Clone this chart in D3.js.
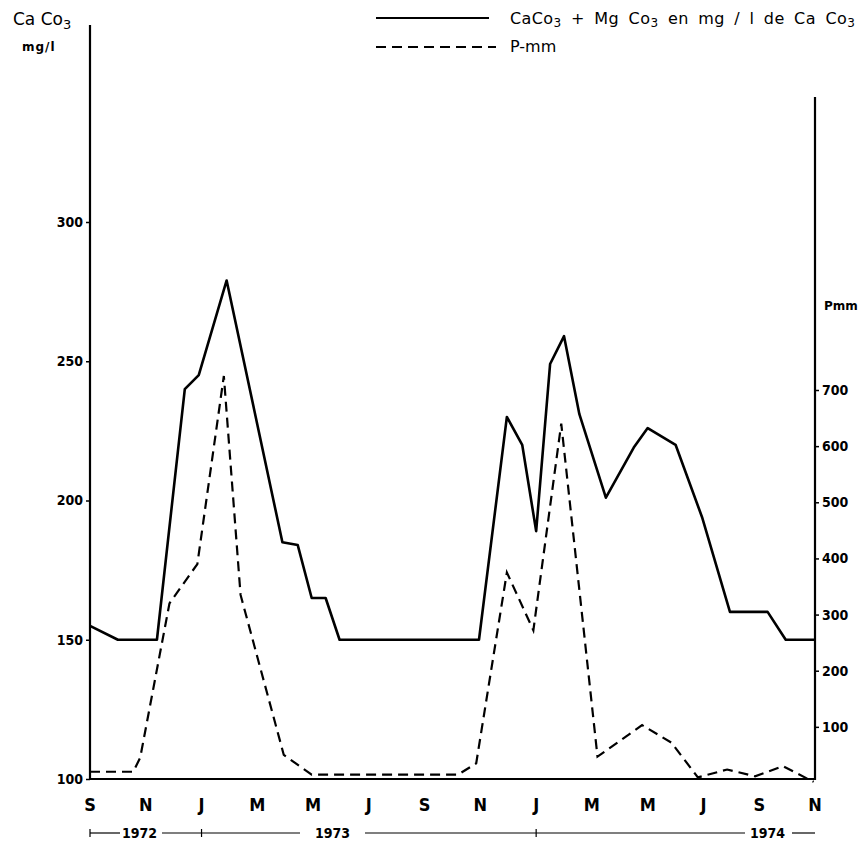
<!DOCTYPE html>
<html>
<head>
<meta charset="utf-8">
<script src="https://cdn.jsdelivr.net/npm/d3@7/dist/d3.min.js"></script>
<style>
  body { margin: 0; background: #fff; }
  svg { display: block; font-family: "DejaVu Sans", sans-serif; }
  .tick text { font-family: "DejaVu Sans Condensed", "DejaVu Sans", sans-serif; font-weight: bold; font-size: 14px; }
  .month { font-family: "DejaVu Sans Condensed", "DejaVu Sans", sans-serif; font-size: 18px; font-weight: 600; }
  .year { font-family: "DejaVu Sans Condensed", "DejaVu Sans", sans-serif; font-size: 14px; font-weight: bold; }
</style>
</head>
<body>
<svg id="chart" width="863" height="848"></svg>
<script>
// months counted from September 1972 (0) to November 1974 (26)
var monthLabels = ["S", "N", "J", "M", "M", "J", "S", "N", "J", "M", "M", "J", "S", "N"];
var leftTicks = [100, 150, 200, 250, 300];
var rightTicks = [100, 200, 300, 400, 500, 600, 700];

// CaCo3 + MgCo3 (mg/l of CaCo3), solid line
var hardMonths = [0, 1, 2.4, 3.4, 3.9, 4.9, 6.9, 7.45, 7.95, 8.45, 8.95, 13.95, 14.95, 15.5, 16.0, 16.5, 17.0, 17.55, 18.5, 19.5, 20.0, 21.0, 21.95, 22.95, 24.3, 24.95, 26];
var hardValues = [155, 150, 150, 240, 245, 279, 185, 184, 165, 165, 150, 150, 230, 220, 189, 249, 259, 231, 201, 219, 226, 220, 194, 160, 160, 150, 150];

// rainfall P-mm, dashed line
var rainMonths = [0, 1.55, 1.8, 2.85, 3.85, 4.8, 5.4, 6.95, 7.95, 13.2, 13.85, 14.95, 15.9, 16.9, 18.2, 19.8, 20.85, 21.8, 22.85, 23.85, 24.85, 25.95];
var rainValues = [20, 20, 45, 320, 390, 725, 335, 50, 15, 15, 35, 375, 272, 640, 47, 103, 72, 10, 24, 12, 30, 2];

var svg = d3.select("#chart");

var x = d3.scaleLinear().domain([0, 26]).range([90, 815]);
var yLeft = d3.scaleLinear().domain([100, 300]).range([779, 222]);
var yRight = d3.scaleLinear().domain([0, 700]).range([783, 390]);

// axis lines
svg.append("line").attr("x1", 90).attr("x2", 90).attr("y1", 25).attr("y2", 779)
   .attr("stroke", "#000").attr("stroke-width", 2.2);
svg.append("line").attr("x1", 815).attr("x2", 815).attr("y1", 97).attr("y2", 780)
   .attr("stroke", "#000").attr("stroke-width", 2.2);
svg.append("line").attr("x1", 89).attr("x2", 816).attr("y1", 779).attr("y2", 779)
   .attr("stroke", "#000").attr("stroke-width", 2.2);

// left axis
var gl = svg.append("g").attr("transform", "translate(90,0)")
   .call(d3.axisLeft(yLeft).tickValues(leftTicks).tickSize(4).tickPadding(3));
gl.select(".domain").remove();
gl.selectAll(".tick line").attr("stroke-width", 1.5);

// right axis
var gr = svg.append("g").attr("transform", "translate(815,0)")
   .call(d3.axisRight(yRight).tickValues(rightTicks).tickSize(4).tickPadding(3));
gr.select(".domain").remove();
gr.selectAll(".tick line").attr("stroke-width", 1.5);

// month labels
svg.selectAll("text.month").data(monthLabels).enter().append("text")
   .attr("class", "month")
   .attr("x", function (d, i) { return x(i * 2); })
   .attr("y", 811)
   .attr("text-anchor", "middle")
   .text(function (d) { return d; });

// year row
var yearY = 833;
function hline(a, b) {
  svg.append("line").attr("x1", a).attr("x2", b).attr("y1", yearY).attr("y2", yearY)
     .attr("stroke", "#000").attr("stroke-width", 1.2);
}
function vtick(m) {
  svg.append("line").attr("x1", x(m)).attr("x2", x(m)).attr("y1", yearY - 4).attr("y2", yearY + 4)
     .attr("stroke", "#000").attr("stroke-width", 1.2);
}
vtick(0); vtick(4); vtick(16);
hline(x(0), 120);
hline(162, 300);
hline(365, 745);
hline(792, 815);
svg.append("text").attr("class", "year").attr("x", 122).attr("y", yearY + 5).text("1972");
svg.append("text").attr("class", "year").attr("x", 315).attr("y", yearY + 5).text("1973");
svg.append("text").attr("class", "year").attr("x", 750).attr("y", yearY + 5).text("1974");

// series
var hardLine = d3.line()
   .x(function (d, i) { return x(hardMonths[i]); })
   .y(function (d) { return yLeft(d); });
svg.append("path").datum(hardValues)
   .attr("d", hardLine).attr("fill", "none")
   .attr("stroke", "#000").attr("stroke-width", 2.6).attr("stroke-linejoin", "round");

var rainLine = d3.line()
   .x(function (d, i) { return x(rainMonths[i]); })
   .y(function (d) { return yRight(d); });
svg.append("path").datum(rainValues)
   .attr("d", rainLine).attr("fill", "none")
   .attr("stroke", "#000").attr("stroke-width", 2.2).attr("stroke-dasharray", "10,6");

// axis titles
var t1 = svg.append("text").attr("x", 13).attr("y", 25).attr("font-size", 17);
t1.append("tspan").text("Ca Co");
t1.append("tspan").attr("dy", 4).attr("font-size", 13).text("3");
svg.append("text").attr("x", 22).attr("y", 51).attr("font-size", 12).attr("font-weight", "bold")
   .attr("letter-spacing", 1).text("mg/l");
svg.append("text").attr("x", 824).attr("y", 310).attr("font-size", 12).attr("font-weight", "bold").text("Pmm");

// legend
svg.append("line").attr("x1", 376).attr("x2", 489).attr("y1", 18).attr("y2", 18)
   .attr("stroke", "#000").attr("stroke-width", 2);
svg.append("line").attr("x1", 376).attr("x2", 496).attr("y1", 47).attr("y2", 47)
   .attr("stroke", "#000").attr("stroke-width", 2).attr("stroke-dasharray", "10,6");
var lg = svg.append("text").attr("x", 510).attr("y", 24).attr("font-size", 16)
   .attr("letter-spacing", 0.4).attr("word-spacing", 4);
lg.append("tspan").text("CaCo");
lg.append("tspan").attr("dy", 3).attr("font-size", 12).text("3");
lg.append("tspan").attr("dy", -3).text(" + Mg Co");
lg.append("tspan").attr("dy", 3).attr("font-size", 12).text("3");
lg.append("tspan").attr("dy", -3).text(" en  mg / l  de  Ca Co");
lg.append("tspan").attr("dy", 3).attr("font-size", 12).text("3");
svg.append("text").attr("x", 510).attr("y", 52).attr("font-size", 16).text("P-mm");
</script>
</body>
</html>
